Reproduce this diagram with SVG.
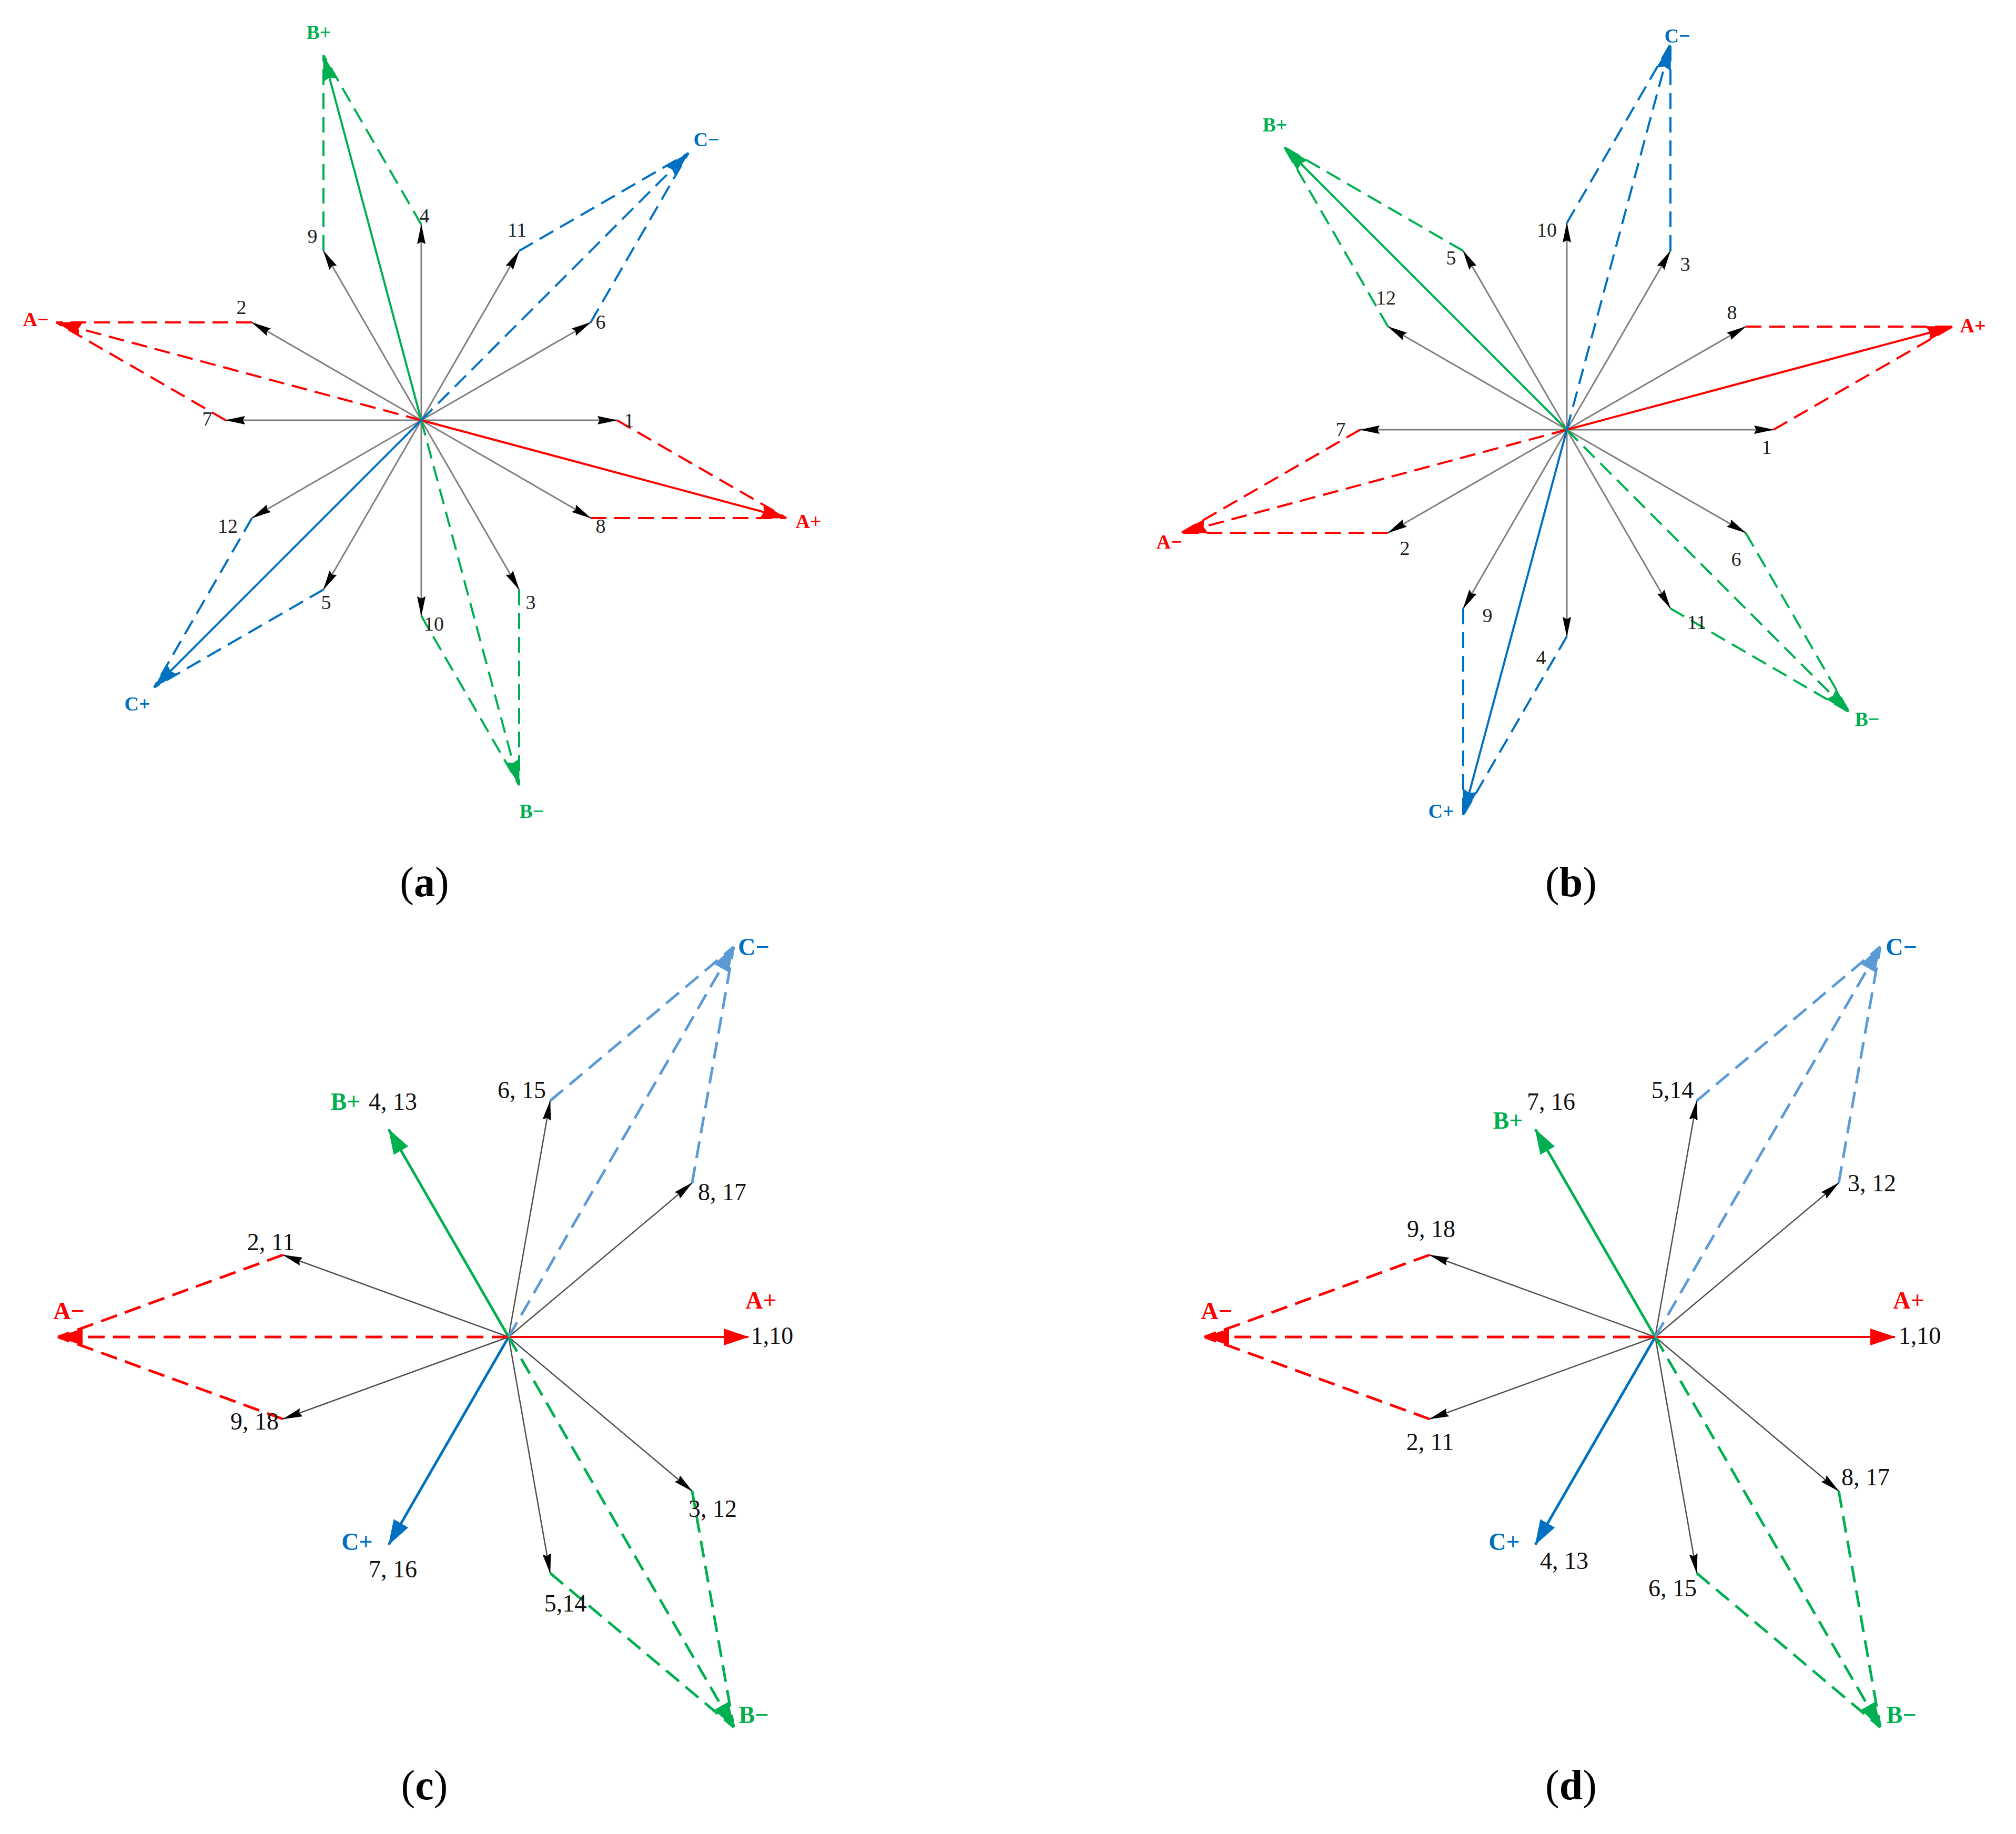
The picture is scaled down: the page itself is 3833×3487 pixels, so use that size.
<svg xmlns="http://www.w3.org/2000/svg" width="3833" height="3487" viewBox="0 0 3833 3487">
<style>
.g1{stroke:#808080;stroke-width:3;fill:none;marker-end:url(#mk)}
.g2{stroke:#505050;stroke-width:2.5;fill:none;marker-end:url(#mk)}
.s{stroke-width:4;fill:none}
.s2{stroke-width:5;fill:none}
.d{stroke-width:4;fill:none;stroke-dasharray:30 15}
.d2{stroke-width:5;fill:none;stroke-dasharray:32 16}
.r{stroke:#ff0000}
.gr{stroke:#00b050}
.b{stroke:#0070c0}
.lb{stroke:#5b9bd5}
.er{marker-end:url(#mr)}
.eg{marker-end:url(#mg)}
.eb{marker-end:url(#mb)}
.er2{marker-end:url(#mr2)}
.eg2{marker-end:url(#mg2)}
.eb2{marker-end:url(#mb2)}
.elb2{marker-end:url(#mlb2)}
text{font-family:"Liberation Serif","Times New Roman",serif;text-anchor:middle}
.n{font-size:38px;fill:#222}
.n2{font-size:46px;fill:#111}
.p{font-size:38px;font-weight:bold}
.p2{font-size:46px;font-weight:bold}
.tr{fill:#ff0000}
.tg{fill:#00b050}
.tb{fill:#0070c0}
.cap{font-size:80px;fill:#000}
</style>
<defs>
<marker id="mk" markerUnits="userSpaceOnUse" markerWidth="38" markerHeight="16" viewBox="0 0 38 16" refX="37" refY="8" orient="auto"><path d="M0,0 L38,8 L0,16 L4,8 z" fill="#000"/></marker>
<marker id="mr" markerUnits="userSpaceOnUse" markerWidth="50" markerHeight="28" viewBox="0 0 50 28" refX="49" refY="14" orient="auto"><path d="M0,0 L50,14 L0,28 L5,14 z" fill="#ff0000"/></marker>
<marker id="mg" markerUnits="userSpaceOnUse" markerWidth="50" markerHeight="28" viewBox="0 0 50 28" refX="49" refY="14" orient="auto"><path d="M0,0 L50,14 L0,28 L5,14 z" fill="#00b050"/></marker>
<marker id="mb" markerUnits="userSpaceOnUse" markerWidth="50" markerHeight="28" viewBox="0 0 50 28" refX="49" refY="14" orient="auto"><path d="M0,0 L50,14 L0,28 L5,14 z" fill="#0070c0"/></marker>
<marker id="mr2" markerUnits="userSpaceOnUse" markerWidth="48" markerHeight="32" viewBox="0 0 48 32" refX="47" refY="16" orient="auto"><path d="M0,0 L48,16 L0,32 z" fill="#ff0000"/></marker>
<marker id="mg2" markerUnits="userSpaceOnUse" markerWidth="48" markerHeight="32" viewBox="0 0 48 32" refX="47" refY="16" orient="auto"><path d="M0,0 L48,16 L0,32 z" fill="#00b050"/></marker>
<marker id="mb2" markerUnits="userSpaceOnUse" markerWidth="48" markerHeight="32" viewBox="0 0 48 32" refX="47" refY="16" orient="auto"><path d="M0,0 L48,16 L0,32 z" fill="#0070c0"/></marker>
<marker id="mlb2" markerUnits="userSpaceOnUse" markerWidth="48" markerHeight="32" viewBox="0 0 48 32" refX="47" refY="16" orient="auto"><path d="M0,0 L48,16 L0,32 z" fill="#5b9bd5"/></marker>
</defs>
<rect width="3833" height="3487" fill="#fff"/>

<!-- ===== Panel (a) ===== -->
<g id="panel-a">
<g id="a-connectors">
<line class="g1" x1="801" y1="799" x2="1173" y2="799"/>
<line class="g1" x1="801" y1="799" x2="1123" y2="613"/>
<line class="g1" x1="801" y1="799" x2="987" y2="477"/>
<line class="g1" x1="801" y1="799" x2="801" y2="427"/>
<line class="g1" x1="801" y1="799" x2="615" y2="477"/>
<line class="g1" x1="801" y1="799" x2="479" y2="613"/>
<line class="g1" x1="801" y1="799" x2="429" y2="799"/>
<line class="g1" x1="801" y1="799" x2="479" y2="985"/>
<line class="g1" x1="801" y1="799" x2="615" y2="1121"/>
<line class="g1" x1="801" y1="799" x2="801" y2="1171"/>
<line class="g1" x1="801" y1="799" x2="987" y2="1121"/>
<line class="g1" x1="801" y1="799" x2="1123" y2="985"/>
<line class="d r" x1="1173" y1="799" x2="1495" y2="985"/>
<line class="d r" x1="1123" y1="985" x2="1495" y2="985"/>
<line class="s r er" x1="801" y1="799" x2="1495" y2="985"/>
<line class="d r" x1="479" y1="613" x2="107" y2="613"/>
<line class="d r" x1="429" y1="799" x2="107" y2="613"/>
<line class="d r er" x1="801" y1="799" x2="107" y2="613"/>
<line class="d gr" x1="801" y1="427" x2="615" y2="105"/>
<line class="d gr" x1="615" y1="477" x2="615" y2="105"/>
<line class="s gr eg" x1="801" y1="799" x2="615" y2="105"/>
<line class="d gr" x1="801" y1="1171" x2="987" y2="1493"/>
<line class="d gr" x1="987" y1="1121" x2="987" y2="1493"/>
<line class="d gr eg" x1="801" y1="799" x2="987" y2="1493"/>
<line class="d b" x1="479" y1="985" x2="293" y2="1307"/>
<line class="d b" x1="615" y1="1121" x2="293" y2="1307"/>
<line class="s b eb" x1="801" y1="799" x2="293" y2="1307"/>
<line class="d b" x1="987" y1="477" x2="1309" y2="291"/>
<line class="d b" x1="1123" y1="613" x2="1309" y2="291"/>
<line class="d b eb" x1="801" y1="799" x2="1309" y2="291"/>
</g>
<g id="a-labels">
<text class="n" x="1196" y="812">1</text>
<text class="n" x="1142" y="625">6</text>
<text class="n" x="983" y="450">11</text>
<text class="n" x="807" y="423">4</text>
<text class="n" x="594" y="462">9</text>
<text class="n" x="459" y="597">2</text>
<text class="n" x="394" y="809">7</text>
<text class="n" x="433" y="1013">12</text>
<text class="n" x="620" y="1158">5</text>
<text class="n" x="825" y="1199">10</text>
<text class="n" x="1009" y="1158">3</text>
<text class="n" x="1142" y="1013">8</text>
<text class="p tr" x="1537" y="1004">A+</text>
<text class="p tr" x="68" y="620">A−</text>
<text class="p tg" x="606" y="74">B+</text>
<text class="p tg" x="1011" y="1555">B−</text>
<text class="p tb" x="261" y="1351">C+</text>
<text class="p tb" x="1343" y="278">C−</text>
</g>
<text class="cap" x="807" y="1704">(<tspan font-weight="bold">a</tspan>)</text>
</g>

<!-- ===== Panel (b) ===== -->
<g id="panel-b">
<g id="b-connectors">
<line class="g1" x1="2979" y1="817" x2="3372" y2="817"/>
<line class="g1" x1="2979" y1="817" x2="3319" y2="621"/>
<line class="g1" x1="2979" y1="817" x2="3176" y2="477"/>
<line class="g1" x1="2979" y1="817" x2="2979" y2="424"/>
<line class="g1" x1="2979" y1="817" x2="2782" y2="477"/>
<line class="g1" x1="2979" y1="817" x2="2639" y2="621"/>
<line class="g1" x1="2979" y1="817" x2="2586" y2="817"/>
<line class="g1" x1="2979" y1="817" x2="2639" y2="1013"/>
<line class="g1" x1="2979" y1="817" x2="2782" y2="1157"/>
<line class="g1" x1="2979" y1="817" x2="2979" y2="1210"/>
<line class="g1" x1="2979" y1="817" x2="3176" y2="1157"/>
<line class="g1" x1="2979" y1="817" x2="3319" y2="1013"/>
<line class="d r" x1="3372" y1="817" x2="3712" y2="621"/>
<line class="d r" x1="3319" y1="621" x2="3712" y2="621"/>
<line class="s r er" x1="2979" y1="817" x2="3712" y2="621"/>
<line class="d r" x1="2586" y1="817" x2="2246" y2="1013"/>
<line class="d r" x1="2639" y1="1013" x2="2246" y2="1013"/>
<line class="d r er" x1="2979" y1="817" x2="2246" y2="1013"/>
<line class="d gr" x1="2782" y1="477" x2="2442" y2="280"/>
<line class="d gr" x1="2639" y1="621" x2="2442" y2="280"/>
<line class="s gr eg" x1="2979" y1="817" x2="2442" y2="280"/>
<line class="d gr" x1="3176" y1="1157" x2="3516" y2="1354"/>
<line class="d gr" x1="3319" y1="1013" x2="3516" y2="1354"/>
<line class="d gr eg" x1="2979" y1="817" x2="3516" y2="1354"/>
<line class="d b" x1="2979" y1="424" x2="3176" y2="84"/>
<line class="d b" x1="3176" y1="477" x2="3176" y2="84"/>
<line class="d b eb" x1="2979" y1="817" x2="3176" y2="84"/>
<line class="d b" x1="2979" y1="1210" x2="2782" y2="1550"/>
<line class="d b" x1="2782" y1="1157" x2="2782" y2="1550"/>
<line class="s b eb" x1="2979" y1="817" x2="2782" y2="1550"/>
</g>
<g id="b-labels">
<text class="n" x="2941" y="450">10</text>
<text class="n" x="2759" y="503">5</text>
<text class="n" x="3204" y="515">3</text>
<text class="n" x="2635" y="579">12</text>
<text class="n" x="3293" y="607">8</text>
<text class="n" x="2549" y="829">7</text>
<text class="n" x="3359" y="863">1</text>
<text class="n" x="2671" y="1055">2</text>
<text class="n" x="3301" y="1076">6</text>
<text class="n" x="2828" y="1183">9</text>
<text class="n" x="3226" y="1196">11</text>
<text class="n" x="2930" y="1263">4</text>
<text class="p tr" x="3751" y="632">A+</text>
<text class="p tr" x="2223" y="1043">A−</text>
<text class="p tg" x="2424" y="250">B+</text>
<text class="p tg" x="3550" y="1380">B−</text>
<text class="p tb" x="2740" y="1555">C+</text>
<text class="p tb" x="3189" y="81">C−</text>
</g>
<text class="cap" x="2987" y="1704">(<tspan font-weight="bold">b</tspan>)</text>
</g>

<!-- ===== Panel (c) ===== -->
<g id="panel-c">
<g id="c-connectors">
<line class="g2" x1="967" y1="2542" x2="1316" y2="2249"/>
<line class="g2" x1="967" y1="2542" x2="1046" y2="2093"/>
<line class="g2" x1="967" y1="2542" x2="538" y2="2386"/>
<line class="g2" x1="967" y1="2542" x2="538" y2="2698"/>
<line class="g2" x1="967" y1="2542" x2="1046" y2="2991"/>
<line class="g2" x1="967" y1="2542" x2="1316" y2="2835"/>
<line class="s r er2" x1="967" y1="2542" x2="1423" y2="2542"/>
<line class="s2 gr eg2" x1="967" y1="2542" x2="739" y2="2147"/>
<line class="s2 b eb2" x1="967" y1="2542" x2="739" y2="2937"/>
<line class="d2 r" x1="538" y1="2386" x2="110" y2="2542"/>
<line class="d2 r" x1="538" y1="2698" x2="110" y2="2542"/>
<line class="d2 r er2" x1="967" y1="2542" x2="110" y2="2542"/>
<line class="d2 lb" x1="1046" y1="2093" x2="1395" y2="1800"/>
<line class="d2 lb" x1="1316" y1="2249" x2="1395" y2="1800"/>
<line class="d2 lb elb2" x1="967" y1="2542" x2="1395" y2="1800"/>
<line class="d2 gr" x1="1046" y1="2991" x2="1395" y2="3284"/>
<line class="d2 gr" x1="1316" y1="2835" x2="1395" y2="3284"/>
<line class="d2 gr eg2" x1="967" y1="2542" x2="1395" y2="3284"/>
</g>
<g id="c-labels">
<text class="p2 tb" x="1433" y="1816">C−</text>
<text class="n2" x="992" y="2088">6, 15</text>
<text class="p2 tg" x="657" y="2110">B+</text>
<text class="n2" x="747" y="2110">4, 13</text>
<text class="n2" x="1373" y="2282">8, 17</text>
<text class="n2" x="515" y="2377">2, 11</text>
<text class="p2 tr" x="131" y="2508">A−</text>
<text class="p2 tr" x="1447" y="2488">A+</text>
<text class="n2" x="1468" y="2555">1,10</text>
<text class="n2" x="484" y="2718">9, 18</text>
<text class="n2" x="1355" y="2884">3, 12</text>
<text class="p2 tb" x="679" y="2947">C+</text>
<text class="n2" x="747" y="2999">7, 16</text>
<text class="n2" x="1075" y="3064">5,14</text>
<text class="p2 tg" x="1433" y="3276">B−</text>
</g>
<text class="cap" x="807" y="3421">(<tspan font-weight="bold">c</tspan>)</text>
</g>

<!-- ===== Panel (d) ===== -->
<g id="panel-d">
<g id="d-connectors">
<line class="g2" x1="3147" y1="2542" x2="3496" y2="2249"/>
<line class="g2" x1="3147" y1="2542" x2="3226" y2="2093"/>
<line class="g2" x1="3147" y1="2542" x2="2718" y2="2386"/>
<line class="g2" x1="3147" y1="2542" x2="2718" y2="2698"/>
<line class="g2" x1="3147" y1="2542" x2="3226" y2="2991"/>
<line class="g2" x1="3147" y1="2542" x2="3496" y2="2835"/>
<line class="s r er2" x1="3147" y1="2542" x2="3603" y2="2542"/>
<line class="s2 gr eg2" x1="3147" y1="2542" x2="2919" y2="2147"/>
<line class="s2 b eb2" x1="3147" y1="2542" x2="2919" y2="2937"/>
<line class="d2 r" x1="2718" y1="2386" x2="2290" y2="2542"/>
<line class="d2 r" x1="2718" y1="2698" x2="2290" y2="2542"/>
<line class="d2 r er2" x1="3147" y1="2542" x2="2290" y2="2542"/>
<line class="d2 lb" x1="3226" y1="2093" x2="3575" y2="1800"/>
<line class="d2 lb" x1="3496" y1="2249" x2="3575" y2="1800"/>
<line class="d2 lb elb2" x1="3147" y1="2542" x2="3575" y2="1800"/>
<line class="d2 gr" x1="3226" y1="2991" x2="3575" y2="3284"/>
<line class="d2 gr" x1="3496" y1="2835" x2="3575" y2="3284"/>
<line class="d2 gr eg2" x1="3147" y1="2542" x2="3575" y2="3284"/>
</g>
<g id="d-labels">
<text class="p2 tb" x="3615" y="1816">C−</text>
<text class="n2" x="3180" y="2088">5,14</text>
<text class="n2" x="2949" y="2110">7, 16</text>
<text class="p2 tg" x="2867" y="2146">B+</text>
<text class="n2" x="3559" y="2265">3, 12</text>
<text class="n2" x="2721" y="2352">9, 18</text>
<text class="p2 tr" x="2313" y="2508">A−</text>
<text class="p2 tr" x="3629" y="2488">A+</text>
<text class="n2" x="3650" y="2555">1,10</text>
<text class="n2" x="2719" y="2757">2, 11</text>
<text class="n2" x="3547" y="2824">8, 17</text>
<text class="p2 tb" x="2860" y="2947">C+</text>
<text class="n2" x="2974" y="2983">4, 13</text>
<text class="n2" x="3180" y="3035">6, 15</text>
<text class="p2 tg" x="3615" y="3276">B−</text>
</g>
<text class="cap" x="2987" y="3421">(<tspan font-weight="bold">d</tspan>)</text>
</g>
</svg>
